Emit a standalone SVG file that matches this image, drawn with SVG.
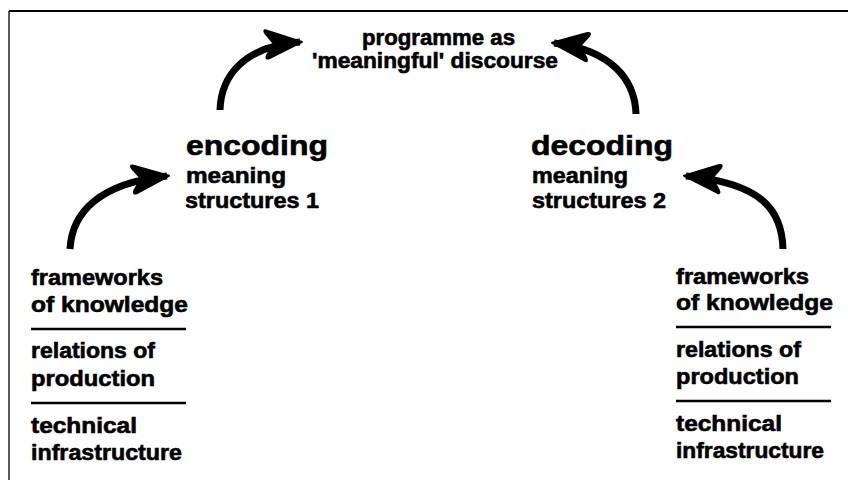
<svg xmlns="http://www.w3.org/2000/svg" width="848" height="480" viewBox="0 0 848 480">
<style>
.t{font-family:"Liberation Sans",Arial,Helvetica,sans-serif;font-weight:bold;fill:#000;stroke:#000;stroke-width:0.6}
.big{font-size:28px}
.med{font-size:22px}
.rule{stroke:#000;stroke-width:2.5}
.shaft{fill:none;stroke:#000;stroke-width:7;stroke-linecap:butt}
</style>
<defs>
<marker id="head" markerUnits="userSpaceOnUse" markerWidth="42" markerHeight="34" refX="38" refY="17" orient="auto" viewBox="0 0 42 34">
<path d="M40,17 L5,3 Q2,2 4,6 L12,17 L4,28 Q2,32 6,31 Z" fill="#000" stroke="#000" stroke-width="2" stroke-linejoin="round"/>
</marker>
</defs>
<rect x="0" y="0" width="848" height="480" fill="#fff"/>
<g id="frame">
<line x1="9" y1="11" x2="848" y2="11" stroke="#000" stroke-width="2"/>
<line x1="9" y1="11" x2="9" y2="480" stroke="#222" stroke-width="1.5"/>
</g>
<g id="connectors">
<path class="shaft" d="M220,110 C221,76 244,46 300,42" marker-end="url(#head)"/>
<path class="shaft" d="M70,249 C72,212 100,183 167,176" marker-end="url(#head)"/>
<path class="shaft" d="M636,114 C635,80 612,50 554,43" marker-end="url(#head)"/>
<path class="shaft" d="M783,249 C782,210 762,183 686,176" marker-end="url(#head)"/>
</g>
<g id="programme">
<text class="t med" x="362" y="45" textLength="153" lengthAdjust="spacingAndGlyphs">programme as</text>
<text class="t med" x="312" y="68" textLength="246" lengthAdjust="spacingAndGlyphs">'meaningful' discourse</text>
</g>
<g id="encoding">
<text class="t big" x="186" y="155" textLength="142" lengthAdjust="spacingAndGlyphs">encoding</text>
<text class="t med" x="186" y="183" textLength="100" lengthAdjust="spacingAndGlyphs">meaning</text>
<text class="t med" x="185" y="208" textLength="134" lengthAdjust="spacingAndGlyphs">structures 1</text>
</g>
<g id="decoding">
<text class="t big" x="531" y="155" textLength="142" lengthAdjust="spacingAndGlyphs">decoding</text>
<text class="t med" x="532" y="183" textLength="96" lengthAdjust="spacingAndGlyphs">meaning</text>
<text class="t med" x="532" y="208" textLength="134" lengthAdjust="spacingAndGlyphs">structures 2</text>
</g>
<g id="production-left">
<text class="t med" x="31" y="285" textLength="132" lengthAdjust="spacingAndGlyphs">frameworks</text>
<text class="t med" x="31" y="312" textLength="157" lengthAdjust="spacingAndGlyphs">of knowledge</text>
<line class="rule" x1="31" y1="329" x2="186" y2="329"/>
<text class="t med" x="31" y="358" textLength="124" lengthAdjust="spacingAndGlyphs">relations of</text>
<text class="t med" x="31" y="386" textLength="124" lengthAdjust="spacingAndGlyphs">production</text>
<line class="rule" x1="31" y1="403" x2="186" y2="403"/>
<text class="t med" x="31" y="433" textLength="106" lengthAdjust="spacingAndGlyphs">technical</text>
<text class="t med" x="31" y="460" textLength="151" lengthAdjust="spacingAndGlyphs">infrastructure</text>
</g>
<g id="production-right">
<text class="t med" x="676" y="284" textLength="133" lengthAdjust="spacingAndGlyphs">frameworks</text>
<text class="t med" x="676" y="310" textLength="157" lengthAdjust="spacingAndGlyphs">of knowledge</text>
<line class="rule" x1="676" y1="327" x2="831" y2="327"/>
<text class="t med" x="676" y="357" textLength="125" lengthAdjust="spacingAndGlyphs">relations of</text>
<text class="t med" x="676" y="384" textLength="123" lengthAdjust="spacingAndGlyphs">production</text>
<line class="rule" x1="676" y1="401" x2="831" y2="401"/>
<text class="t med" x="676" y="431" textLength="106" lengthAdjust="spacingAndGlyphs">technical</text>
<text class="t med" x="676" y="458" textLength="148" lengthAdjust="spacingAndGlyphs">infrastructure</text>
</g>
</svg>
